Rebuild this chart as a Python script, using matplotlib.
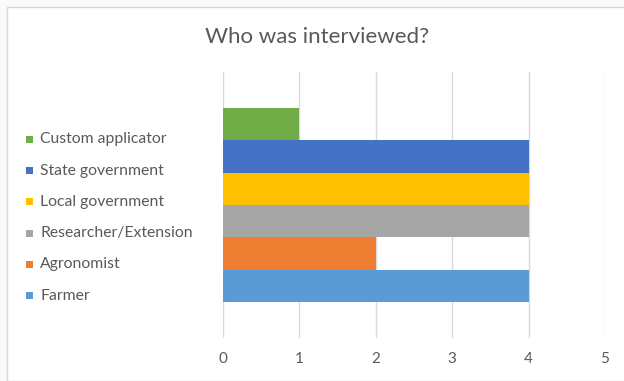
import matplotlib
matplotlib.use('Agg')
from matplotlib import pyplot as plt
from matplotlib.patches import Rectangle

# data (bottom to top)
roles = ['Farmer', 'Agronomist', 'Researcher/Extension', 'Local government',
         'State government', 'Custom applicator']
counts = [4, 2, 4, 4, 4, 1]
colors = ['#5B9BD5', '#ED7D31', '#A5A5A5', '#FFC000', '#4472C4', '#70AD47']
xticks = [0, 1, 2, 3, 4, 5]

plt.rcParams['font.family'] = ['Lato', 'DejaVu Sans']
txt = '#595959'

W, H = 624, 381
fig = plt.figure(figsize=(W / 100, H / 100), dpi=100)
fig.patch.set_facecolor('#FBFAF8')

# chart area with light border, kept behind the axes
fig.patches.append(Rectangle((7 / W, 0), 1, 1 - 7 / H, transform=fig.transFigure,
                             facecolor='white', edgecolor='#D9D9D9', linewidth=1,
                             zorder=-10))

ax = fig.add_axes([223 / W, 1 - 338 / H, (605 - 223) / W, (338 - 72) / H])
ax.set_facecolor('none')
ax.set_zorder(5)

bars = ax.barh(range(len(roles)), counts, height=1.0, color=colors)

ax.set_xlim(0, 5)
ax.set_ylim(-1.61, len(roles) - 1 + 1.61)
ax.set_xticks(xticks)
ax.set_xticklabels([str(t) for t in xticks])
ax.set_yticks([])
ax.grid(axis='x', color='#D9D9D9', linewidth=1)
ax.set_axisbelow(True)
for s in ax.spines.values():
    s.set_visible(False)
ax.tick_params(axis='x', length=0, pad=10, labelsize=11, labelcolor=txt)

fig.text(317 / W, 1 - 37 / H, 'Who was interviewed?', ha='center', va='center',
         fontsize=16, color=txt)

# legend on the left, top entry = last series
for i, (r, c) in enumerate(zip(roles[::-1], colors[::-1])):
    y = 1 - (139.5 + 31.2 * i) / H
    fig.patches.append(Rectangle((26 / W, y - 3.5 / H), 7 / W, 7 / H,
                                 transform=fig.transFigure, facecolor=c, edgecolor='none'))
    fig.text(40 / W, y, r, ha='left', va='center', fontsize=11.3, color=txt)

fig.savefig('out.png', dpi=100, facecolor=fig.get_facecolor())
